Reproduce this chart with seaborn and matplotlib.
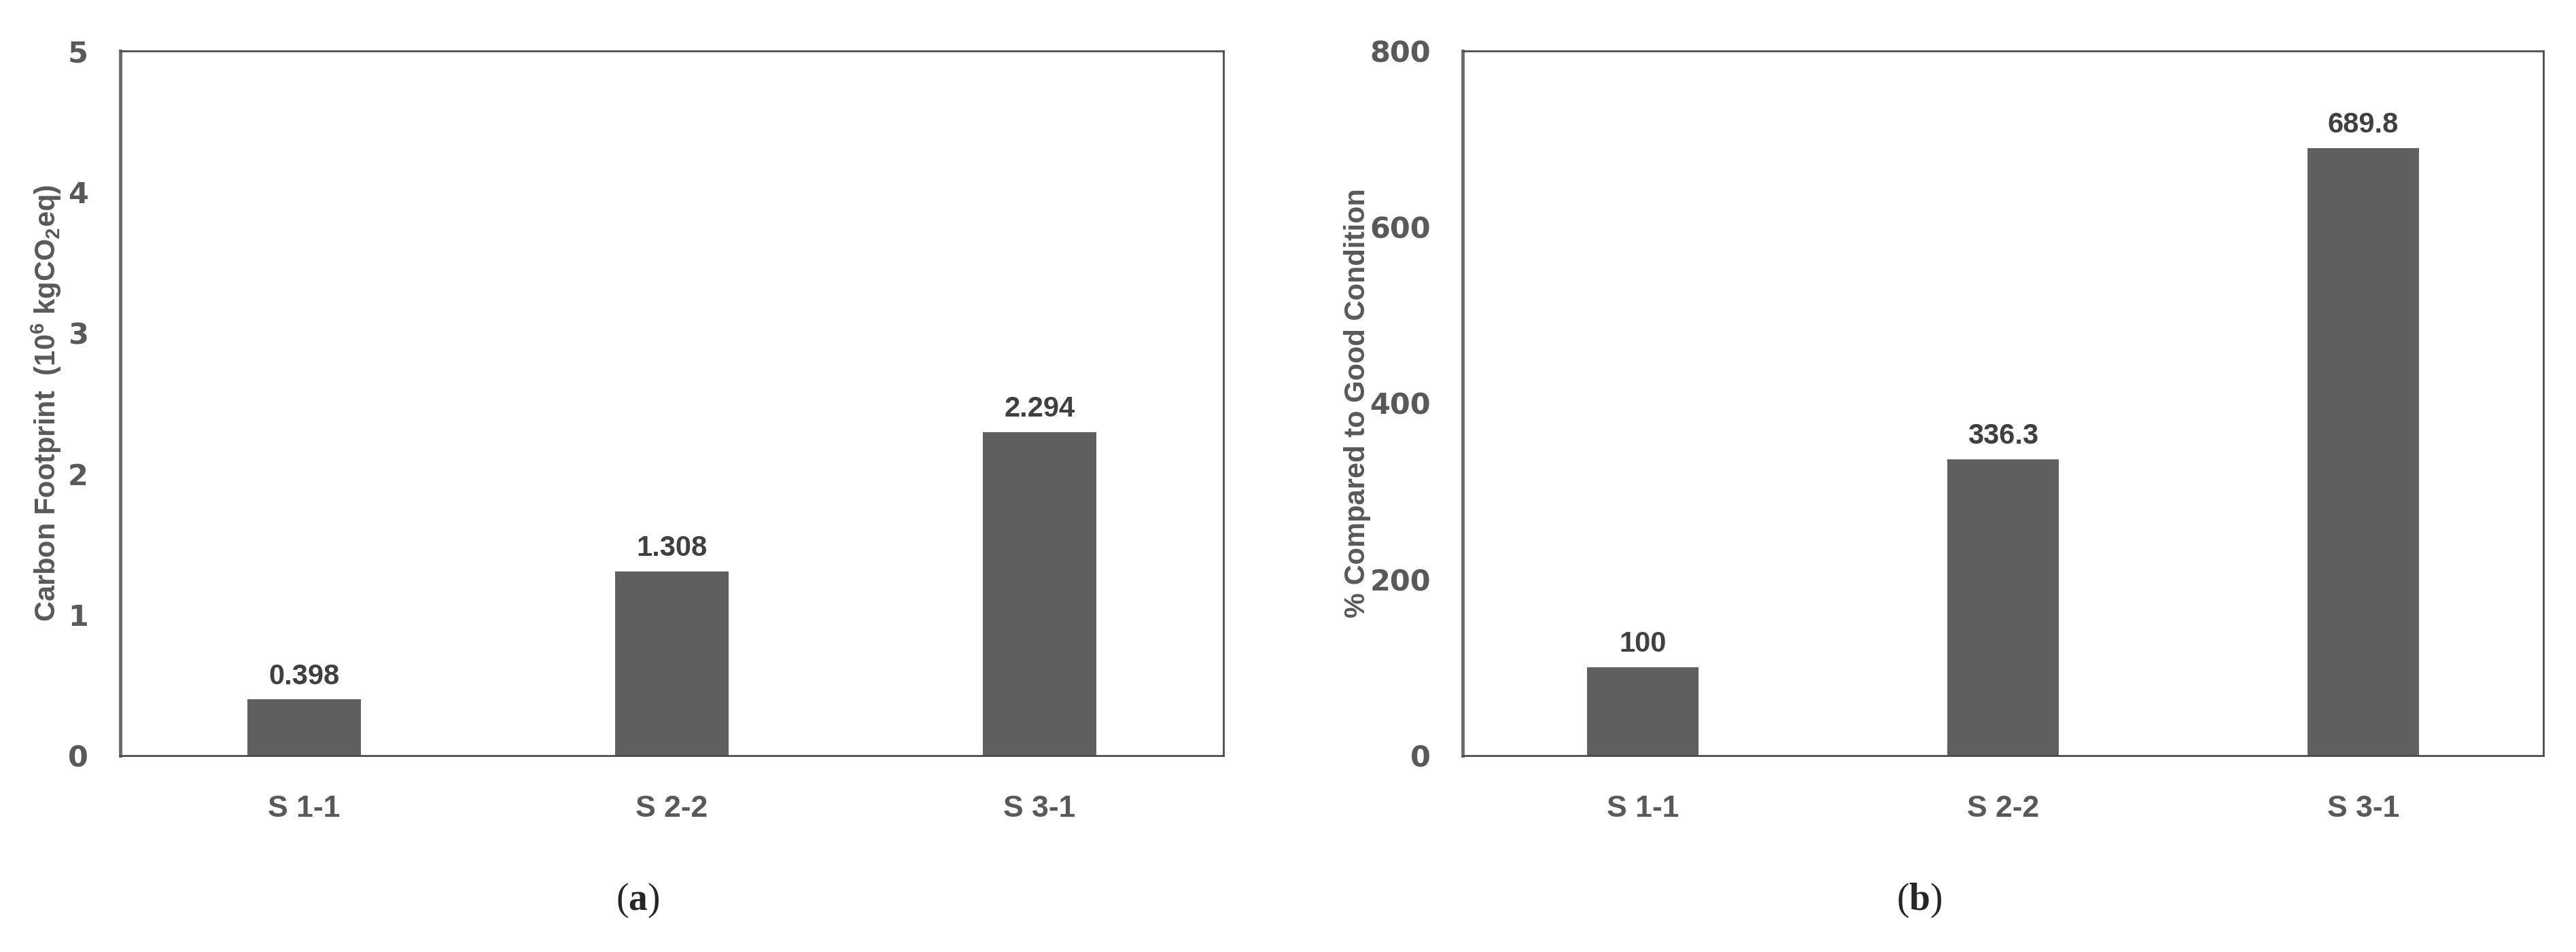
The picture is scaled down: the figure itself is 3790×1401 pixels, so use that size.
import numpy as np
import pandas as pd
import matplotlib
matplotlib.use('Agg')
import matplotlib.pyplot as plt
import seaborn as sns

# values
scenarios = ['S 1-1', 'S 2-2', 'S 3-1']
carbon_footprint = [0.398, 1.308, 2.294]
pct_vs_good = [100, 336.3, 689.8]
left_ticks = [0, 1, 2, 3, 4, 5]
right_ticks = [0, 200, 400, 600, 800]

sns.set_style('white')
plt.rcParams['font.family'] = ['Liberation Sans', 'DejaVu Sans']
plt.rcParams['mathtext.default'] = 'regular'
plt.rcParams['mathtext.fontset'] = 'custom'
plt.rcParams['mathtext.bf'] = 'Liberation Serif:bold'

bar_color = '#5f5f5f'
text_gray = '#595959'
narrow = ['Liberation Sans Narrow', 'Liberation Sans', 'DejaVu Sans']

df_a = pd.DataFrame({'Scenario': scenarios, 'Value': carbon_footprint})
df_b = pd.DataFrame({'Scenario': scenarios, 'Value': pct_vs_good})

fig = plt.figure(figsize=(37.91, 14.01), dpi=100)
ax_a = fig.add_axes([0.0467, 0.2063, 0.4281, 0.7402])
ax_b = fig.add_axes([0.5677, 0.2063, 0.4194, 0.7402])

panels = [
    (ax_a, df_a, left_ticks, r'Carbon Footprint  (10$^{6}$ kgCO$_{2}$eq)', -0.052),
    (ax_b, df_b, right_ticks, '% Compared to Good Condition', -0.085),
]

for ax, df, ticks, ylab, lab_x in panels:
    sns.barplot(data=df, x='Scenario', y='Value', color=bar_color, width=0.31,
                saturation=1, ax=ax, edgecolor='none')
    ax.set_xlim(-0.5, 2.5)
    ax.set_ylim(ticks[0], ticks[-1])
    ax.set_yticks(ticks)
    ax.set_yticklabels([str(t) for t in ticks], fontsize=31, fontweight='bold',
                       color=text_gray, family='DejaVu Sans')
    ax.set_xticks(range(len(scenarios)))
    ax.set_xticklabels(scenarios, fontsize=32, fontweight='bold',
                       color=text_gray, family=narrow)
    ax.tick_params(axis='both', length=0)
    ax.tick_params(axis='y', pad=34)
    ax.tick_params(axis='x', pad=42)
    ax.set_xlabel('')
    ax.set_ylabel(ylab, fontsize=30, fontweight='bold', color=text_gray, family=narrow)
    ax.yaxis.set_label_coords(lab_x, 0.5)
    for s in ax.spines.values():
        s.set_visible(True)
        s.set_color('#4d4d4d')
        s.set_linewidth(2)
    ax.spines['left'].set_linewidth(3.5)
    ax.spines['left'].set_color('#6a6a6a')
    ax.bar_label(ax.containers[0], fmt='%g', padding=10, fontsize=30,
                 fontweight='bold', color='#404040')

fig.text(0.2474, 0.054, r'($\mathbf{a}$)', ha='center', va='center',
         fontsize=40, family='Liberation Serif')
fig.text(0.7449, 0.054, r'($\mathbf{b}$)', ha='center', va='center',
         fontsize=40, family='Liberation Serif')

fig.savefig('out.png', dpi=100, facecolor='white')
